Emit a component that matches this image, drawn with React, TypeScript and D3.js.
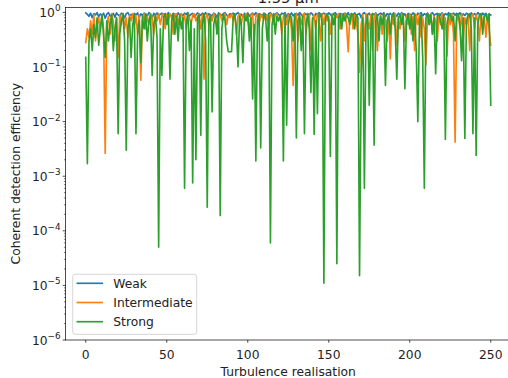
import React, { useRef, useEffect } from 'react';
import * as d3 from 'd3';

const seriesNames = ['Weak', 'Intermediate', 'Strong'];
const colors = ['#1f77b4', '#ff7f0e', '#2ca02c'];
const xTicks = [0, 50, 100, 150, 200, 250];
const yExponents = [0, -1, -2, -3, -4, -5, -6];

const weak = [
  0.98, 0.92, 0.85, 0.97, 0.8, 0.95, 0.9, 0.99, 0.83, 0.94,
  0.88, 0.97, 0.78, 0.93, 0.99, 0.86, 0.91, 0.96, 0.82, 0.98,
  0.9, 0.85, 0.97, 0.93, 0.79, 0.95, 0.99, 0.87, 0.92, 0.84,
  0.96, 0.9, 0.98, 0.81, 0.94, 0.88, 0.97, 0.92, 0.85, 0.99,
  0.93, 0.78, 0.96, 0.9, 0.98, 0.86, 0.92, 0.97, 0.83, 0.95,
  0.89, 0.99, 0.91, 0.84, 0.96, 0.93, 0.8, 0.98, 0.9, 0.94,
  0.87, 0.97, 0.92, 0.99, 0.85, 0.93, 0.96, 0.82, 0.9, 0.98,
  0.94, 0.88, 0.97, 0.91, 0.99, 0.84, 0.95, 0.9, 0.86, 0.97,
  0.93, 0.8, 0.98, 0.92, 0.87, 0.96, 0.99, 0.9, 0.83, 0.95,
  0.92, 0.97, 0.86, 0.94, 0.99, 0.89, 0.93, 0.81, 0.96, 0.9,
  0.98, 0.85, 0.93, 0.97, 0.9, 0.99, 0.84, 0.95, 0.92, 0.88,
  0.97, 0.93, 0.8, 0.96, 0.99, 0.9, 0.86, 0.94, 0.98, 0.91,
  0.87, 0.97, 0.93, 0.99, 0.82, 0.95, 0.9, 0.98, 0.86, 0.93,
  0.96, 0.89, 0.99, 0.92, 0.84, 0.97, 0.91, 0.95, 0.88, 0.98,
  0.93, 0.8, 0.96, 0.9, 0.99, 0.85, 0.94, 0.97, 0.91, 0.87,
  0.98, 0.92, 0.83, 0.95, 0.99, 0.9, 0.86, 0.96, 0.93, 0.88,
  0.97, 0.91, 0.99, 0.84, 0.95, 0.9, 0.98, 0.87, 0.93, 0.96,
  0.8, 0.94, 0.99, 0.89, 0.92, 0.97, 0.85, 0.95, 0.9, 0.98,
  0.86, 0.93, 0.97, 0.91, 0.99, 0.83, 0.95, 0.9, 0.96, 0.88,
  0.98, 0.92, 0.85, 0.97, 0.9, 0.99, 0.87, 0.94, 0.81, 0.96,
  0.93, 0.89, 0.98, 0.91, 0.85, 0.97, 0.92, 0.99, 0.86, 0.95,
  0.9, 0.97, 0.83, 0.94, 0.99, 0.88, 0.93, 0.96, 0.8, 0.92,
  0.98, 0.87, 0.95, 0.9, 0.99, 0.84, 0.93, 0.97, 0.89, 0.96,
  0.91, 0.99, 0.85, 0.94, 0.88, 0.97, 0.92, 0.82, 0.98, 0.9,
  0.95, 0.87, 0.99, 0.93, 0.84, 0.97, 0.9, 0.96, 0.86, 0.92,
  0.9,
];

const intermediate = [
  0.28, 0.5, 0.35, 0.7, 0.4, 0.9, 0.3, 0.6, 0.8, 0.45,
  0.9, 0.5, 0.0026, 0.6, 0.85, 0.4, 0.95, 0.7, 0.3, 0.8,
  0.15, 0.9, 0.6, 0.95, 0.5, 0.8, 0.35, 0.9, 0.7, 0.95,
  0.6, 0.85, 0.4, 0.9, 0.057, 0.7, 0.95, 0.5, 0.85, 0.6,
  0.95, 0.8, 0.4, 0.9, 0.7, 0.95, 0.6, 0.85, 0.95, 0.5,
  0.9, 0.7, 0.95, 0.8, 0.4, 0.9, 0.95, 0.6, 0.85, 0.95,
  0.7, 0.9, 0.5, 0.95, 0.8, 0.6, 0.9, 0.95, 0.7, 0.85,
  0.95, 0.5, 0.9, 0.06, 0.8, 0.95, 0.6, 0.9, 0.7, 0.95,
  0.85, 0.5, 0.9, 0.95, 0.7, 0.85, 0.95, 0.6, 0.9, 0.8,
  0.95, 0.7, 0.9, 0.4, 0.85, 0.95, 0.6, 0.9, 0.8, 0.95,
  0.7, 0.5, 0.9, 0.95, 0.3, 0.85, 0.95, 0.6, 0.9, 0.8,
  0.95, 0.7, 0.9, 0.5, 0.95, 0.85, 0.6, 0.9, 0.95, 0.7,
  0.9, 0.4, 0.85, 0.95, 0.6, 0.9, 0.8, 0.5, 0.046, 0.7,
  0.95, 0.3, 0.85, 0.6, 0.9, 0.95, 0.4, 0.8, 0.95, 0.2,
  0.7, 0.9, 0.5, 0.95, 0.8, 0.3, 0.9, 0.6, 0.95, 0.7,
  0.85, 0.4, 0.95, 0.6, 0.9, 0.8, 0.95, 0.5, 0.9, 0.7,
  0.95, 0.6, 0.19, 0.85, 0.95, 0.5, 0.9, 0.7, 0.4, 0.08,
  0.6, 0.9, 0.3, 0.95, 0.7, 0.5, 0.9, 0.2, 0.8, 0.95,
  0.2, 0.6, 0.9, 0.4, 0.95, 0.7, 0.3, 0.85, 0.14, 0.9,
  0.6, 0.95, 0.25, 0.8, 0.5, 0.95, 0.7, 0.3, 0.9, 0.6,
  0.95, 0.4, 0.85, 0.2, 0.9, 0.6, 0.95, 0.35, 0.8, 0.5,
  0.11, 0.9, 0.6, 0.95, 0.4, 0.85, 0.7, 0.3, 0.9, 0.6,
  0.95, 0.5, 0.8, 0.16, 0.9, 0.6, 0.95, 0.4, 0.0042, 0.7,
  0.9, 0.5, 0.95, 0.3, 0.8, 0.6, 0.9, 0.2, 0.85, 0.95,
  0.5, 0.9, 0.7, 0.3, 0.95, 0.6, 0.85, 0.35, 0.9, 0.5,
  0.25,
];

const strong = [
  0.15, 0.0017, 0.3, 0.5, 0.2, 0.6, 0.35, 0.8, 0.25, 0.5,
  0.9, 0.4, 0.15, 0.7, 0.3, 0.6, 0.9, 0.2, 0.5, 0.8,
  0.006, 0.4, 0.7, 0.95, 0.3, 0.003, 0.5, 0.8, 0.15, 0.6,
  0.9, 0.006, 0.4, 0.7, 0.12, 0.85, 0.5, 0.95, 0.3, 0.7,
  0.9, 0.07, 0.6, 0.9, 0.35, 0.00005, 0.5, 0.07, 0.8, 0.95,
  0.6, 0.9, 0.06, 0.7, 0.95, 0.4, 0.85, 0.3, 0.9, 0.5,
  0.8, 0.0006, 0.6, 0.95, 0.2, 0.7, 0.00075, 0.5, 0.002, 0.8,
  0.9, 0.0056, 0.6, 0.95, 0.3, 0.00027, 0.7, 0.9, 0.015, 0.6,
  0.85, 0.4, 0.95, 0.00019, 0.5, 0.9, 0.7, 0.3, 0.19, 0.19,
  0.19, 0.8, 0.95, 0.5, 0.1, 0.85, 0.6, 0.12, 0.9, 0.7,
  0.95, 0.3, 0.8, 0.026, 0.6, 0.0019, 0.7, 0.9, 0.0033, 0.5,
  0.95, 0.8, 0.3, 0.9, 0.00006, 0.6, 0.95, 0.4, 0.85, 0.7,
  0.9, 0.5, 0.0019, 0.95, 0.0086, 0.6, 0.9, 0.8, 0.3, 0.95,
  0.005, 0.7, 0.9, 0.2, 0.85, 0.006, 0.6, 0.95, 0.5, 0.034,
  0.8, 0.0058, 0.7, 0.014, 0.9, 0.95, 0.6, 0.000011, 0.8, 0.95,
  0.7, 0.0023, 0.9, 0.6, 0.95, 0.000025, 0.8, 0.9, 0.5, 0.95,
  0.7, 0.9, 0.8, 0.6, 0.95, 0.85, 0.5, 0.9, 0.8, 0.000015,
  0.07, 0.8, 0.0006, 0.6, 0.9, 0.02, 0.5, 0.95, 0.0037, 0.7,
  0.9, 0.3, 0.85, 0.6, 0.95, 0.046, 0.7, 0.9, 0.4, 0.85,
  0.95, 0.5, 0.06, 0.8, 0.9, 0.6, 0.95, 0.04, 0.7, 0.9,
  0.5, 0.85, 0.3, 0.95, 0.2, 0.01, 0.7, 0.9, 0.15, 0.0006,
  0.8, 0.95, 0.6, 0.9, 0.4, 0.8, 0.075, 0.9, 0.95, 0.7,
  0.5, 0.9, 0.0047, 0.6, 0.9, 0.95, 0.7, 0.85, 0.3, 0.9,
  0.95, 0.6, 0.13, 0.8, 0.0049, 0.7, 0.9, 0.95, 0.5, 0.006,
  0.8, 0.0024, 0.6, 0.9, 0.95, 0.4, 0.85, 0.9, 0.7, 0.95,
  0.02,
];

const series = [weak, intermediate, strong];

const W = 508;
const H = 378;
const left = 65.5;
const right = 511;
const top = 7.5;
const bottom = 340;
const font = 'DejaVu Sans, sans-serif';
const fs = '12.3px';

const App = () => {
  const svgRef = useRef<SVGSVGElement>(null);

  useEffect(() => {
    const svg = d3.select(svgRef.current);
    svg.selectAll('*').remove();

    const x = d3.scaleLinear().domain([-12.5, 262.5]).range([left, right]);
    const y = d3.scaleLog().domain([1e-6, Math.pow(10, 0.09)]).range([bottom, top]);

    const clip = svg.append('defs').append('clipPath').attr('id', 'plotclip');
    clip.append('rect').attr('x', left).attr('y', top).attr('width', right - left).attr('height', bottom - top);

    const line = d3
      .line<number>()
      .x((d, i) => x(i))
      .y((d) => y(d));

    const plot = svg.append('g').attr('clip-path', 'url(#plotclip)');
    series.forEach((s, k) => {
      plot
        .append('path')
        .attr('d', line(s))
        .attr('fill', 'none')
        .attr('stroke', colors[k])
        .attr('stroke-width', 1.65)
        .attr('stroke-linejoin', 'round')
        .attr('stroke-linecap', 'square');
    });

    // x axis
    const xAxis = svg.append('g');
    xTicks.forEach((t) => {
      xAxis.append('line').attr('x1', x(t)).attr('x2', x(t)).attr('y1', bottom).attr('y2', bottom + 2.8)
        .attr('stroke', '#000').attr('stroke-width', 0.7);
      xAxis.append('text').attr('x', x(t)).attr('y', bottom + 18.5).attr('text-anchor', 'middle')
        .style('font-family', font).style('font-size', fs).style('fill', '#222').text(t);
    });

    // y axis, major and minor ticks
    const yAxis = svg.append('g');
    yExponents.forEach((e) => {
      const v = Math.pow(10, e);
      yAxis.append('line').attr('x1', left - 2.8).attr('x2', left).attr('y1', y(v)).attr('y2', y(v))
        .attr('stroke', '#000').attr('stroke-width', 0.7);
      const label = yAxis.append('text').attr('x', left - 5).attr('y', y(v) + 4.5).attr('text-anchor', 'end')
        .style('font-family', font).style('font-size', fs).style('fill', '#222');
      label.append('tspan').text('10');
      label.append('tspan').attr('dy', -5.5).style('font-size', '8.8px').text(e === 0 ? '0' : '\u2212' + -e);
      if (e < 0) {
        for (let m = 2; m <= 9; m++) {
          const mv = m * v;
          yAxis.append('line').attr('x1', left - 1.6).attr('x2', left).attr('y1', y(mv)).attr('y2', y(mv))
            .attr('stroke', '#000').attr('stroke-width', 0.5);
        }
      }
    });

    // frame
    svg.append('rect').attr('x', left).attr('y', top).attr('width', right - left).attr('height', bottom - top)
      .attr('fill', 'none').attr('stroke', '#000').attr('stroke-width', 0.7);

    // title (cut off at the top, as in the source image)
    svg.append('text').attr('x', (left + right) / 2).attr('y', 2.5).attr('text-anchor', 'middle')
      .style('font-family', font).style('font-size', '14.7px').style('fill', '#222').text('1.55 µm');

    svg.append('text').attr('x', (left + right) / 2).attr('y', 375.5).attr('text-anchor', 'middle')
      .style('font-family', font).style('font-size', fs).style('fill', '#222').text('Turbulence realisation');

    svg.append('text').attr('transform', `translate(19.5, ${(top + bottom) / 2}) rotate(-90)`).attr('text-anchor', 'middle')
      .style('font-family', font).style('font-size', fs).style('fill', '#222').text('Coherent detection efficiency');

    // legend
    const legend = svg.append('g');
    legend.append('rect').attr('x', 72.7).attr('y', 274.3).attr('width', 124).attr('height', 60).attr('rx', 2.5)
      .attr('fill', '#fff').attr('fill-opacity', 0.8).attr('stroke', '#ccc').attr('stroke-width', 0.8);
    seriesNames.forEach((name, k) => {
      const ly = 283.3 + k * 19.2;
      legend.append('line').attr('x1', 76.5).attr('x2', 103).attr('y1', ly).attr('y2', ly)
        .attr('stroke', colors[k]).attr('stroke-width', 1.65);
      legend.append('text').attr('x', 113.3).attr('y', ly + 4.4).style('font-family', font).style('font-size', fs)
        .style('fill', '#222').text(name);
    });
  }, []);

  return (
    <svg ref={svgRef} width={W} height={H} style={{ position: 'absolute', left: 0, top: 0, background: '#fff' }} />
  );
};

export default App;
